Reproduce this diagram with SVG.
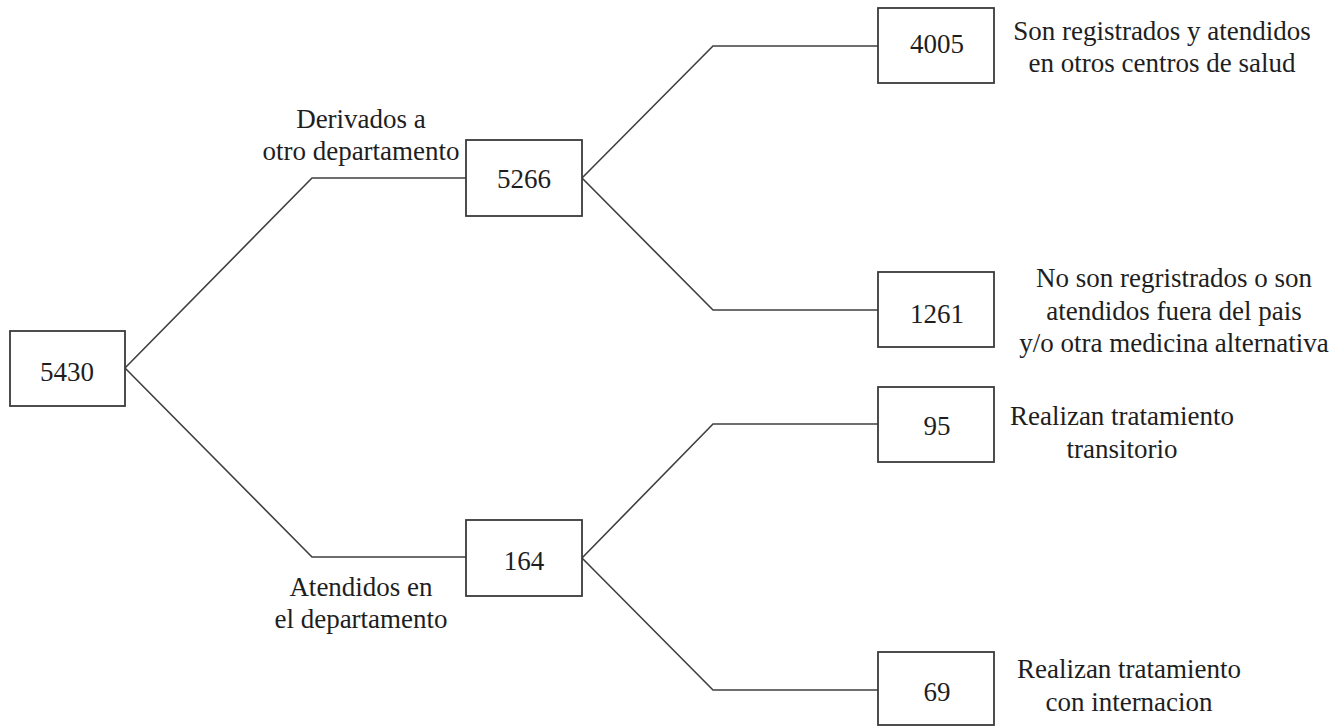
<svg xmlns="http://www.w3.org/2000/svg" width="1337" height="726" viewBox="0 0 1337 726">
  <style>
    .box { fill: #ffffff; stroke: #3a3a3a; stroke-width: 1.8; }
    .num { font-family: "Liberation Serif", "Times New Roman", serif; font-size: 27px; fill: #1e1e1e; text-anchor: middle; }
    .lbl { font-family: "Liberation Serif", "Times New Roman", serif; font-size: 27px; fill: #1e1e1e; text-anchor: middle; }
    .link { fill: none; stroke: #3f3f3f; stroke-width: 1.6; stroke-linejoin: miter; }
  </style>
  <rect width="1337" height="726" fill="#ffffff"/>

  <!-- connectors -->
  <g id="connectors">
    <polyline class="link" points="125,368 312,178 466,178"/>
    <polyline class="link" points="125,368 312,557 466,557"/>
    <polyline class="link" points="582,178 713,46 878,46"/>
    <polyline class="link" points="582,178 713,310 878,310"/>
    <polyline class="link" points="582,558 713,424 878,424"/>
    <polyline class="link" points="582,558 713,690 878,690"/>
  </g>

  <!-- branch labels -->
  <g id="label-derivados">
    <text class="lbl" x="361" y="128">Derivados a</text>
    <text class="lbl" x="361" y="160">otro departamento</text>
  </g>
  <g id="label-atendidos">
    <text class="lbl" x="361" y="596">Atendidos en</text>
    <text class="lbl" x="361" y="628">el departamento</text>
  </g>

  <!-- nodes -->
  <g id="node-5430">
    <rect class="box" x="10" y="331" width="115" height="75"/>
    <text class="num" x="67" y="381">5430</text>
  </g>
  <g id="node-5266">
    <rect class="box" x="466" y="140" width="116" height="76"/>
    <text class="num" x="524" y="188">5266</text>
  </g>
  <g id="node-164">
    <rect class="box" x="466" y="520" width="116" height="76"/>
    <text class="num" x="524" y="570">164</text>
  </g>
  <g id="node-4005">
    <rect class="box" x="878" y="8" width="116" height="75"/>
    <text class="num" x="937" y="53">4005</text>
    <text class="lbl" x="1162" y="40">Son registrados y atendidos</text>
    <text class="lbl" x="1162" y="72">en otros centros de salud</text>
  </g>
  <g id="node-1261">
    <rect class="box" x="878" y="272" width="116" height="75"/>
    <text class="num" x="937" y="323">1261</text>
    <text class="lbl" x="1174" y="287">No son regristrados o son</text>
    <text class="lbl" x="1174" y="320">atendidos fuera del pais</text>
    <text class="lbl" x="1174" y="352">y/o otra medicina alternativa</text>
  </g>
  <g id="node-95">
    <rect class="box" x="878" y="387" width="116" height="75"/>
    <text class="num" x="937" y="435">95</text>
    <text class="lbl" x="1122" y="425">Realizan tratamiento</text>
    <text class="lbl" x="1122" y="458">transitorio</text>
  </g>
  <g id="node-69">
    <rect class="box" x="878" y="652" width="116" height="73"/>
    <text class="num" x="937" y="701">69</text>
    <text class="lbl" x="1129" y="678">Realizan tratamiento</text>
    <text class="lbl" x="1129" y="711">con internacion</text>
  </g>
</svg>
